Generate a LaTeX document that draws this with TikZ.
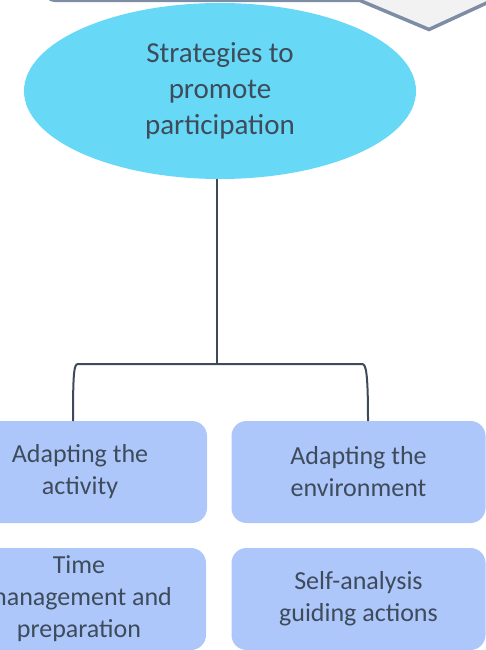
\documentclass[tikz,border=0pt]{standalone}
\usepackage{fontspec}
\setmainfont{Carlito}
\usetikzlibrary{shapes.geometric}
\definecolor{elcol}{RGB}{103,217,246}
\definecolor{boxcol}{RGB}{174,199,251}
\definecolor{txtcol}{RGB}{62,75,90}
\definecolor{linecol}{RGB}{62,74,89}
\definecolor{greyfill}{RGB}{242,242,242}
\definecolor{greyline}{RGB}{124,141,164}
\tikzset{
  ellnode/.style={ellipse, fill=elcol, draw=none, minimum width=392pt, minimum height=176pt, inner sep=0pt,
    text=txtcol, align=center, font=\fontsize{29}{36}\selectfont},
  boxnode/.style={rectangle, rounded corners=15pt, fill=boxcol, draw=none, minimum width=254pt, minimum height=102pt,
    inner sep=0pt, text=txtcol, align=center, font=\fontsize{26}{32}\selectfont},
  conn/.style={draw=linecol, line width=2pt},
  topshape/.style={fill=greyfill, draw=greyline, line width=3.5pt, line join=miter}
}
\begin{document}
\begin{tikzpicture}[x=1pt,y=-1pt]
\useasboundingbox (0,0) rectangle (486,650);
\clip (0,0) rectangle (486,650);
% partial top shape
\path[topshape] (44,-60) [rounded corners=12pt] -- (44,0.5) [sharp corners] -- (360,0.5) -- (429,29.5) -- (530,-17) -- (530,-60) -- cycle;
% ellipse
\node[ellnode] (ell) at (220,91) {Strategies to\\promote\\participation};
% boxes
\node[boxnode] (b1) at (80,472) {Adapting the\\activity};
\node[boxnode] (b2) at (358.5,472) {Adapting the\\environment};
\node[boxnode] (b3) at (79,599) {Time\\management and\\preparation};
\node[boxnode] (b4) at (358.5,599) {Self-analysis\\guiding actions};
% connectors
\coordinate (j) at (217,364);
\coordinate (bl) at (73,421);
\coordinate (br) at (368,421);
\draw[conn] (ell.south -| j) -- (j);
\draw[conn] (j) -- (78,364) .. controls (74,364) and (73,372) .. (bl);
\draw[conn] (j) -- (362,364) .. controls (366,364) and (368,372) .. (br);
\end{tikzpicture}
\end{document}
